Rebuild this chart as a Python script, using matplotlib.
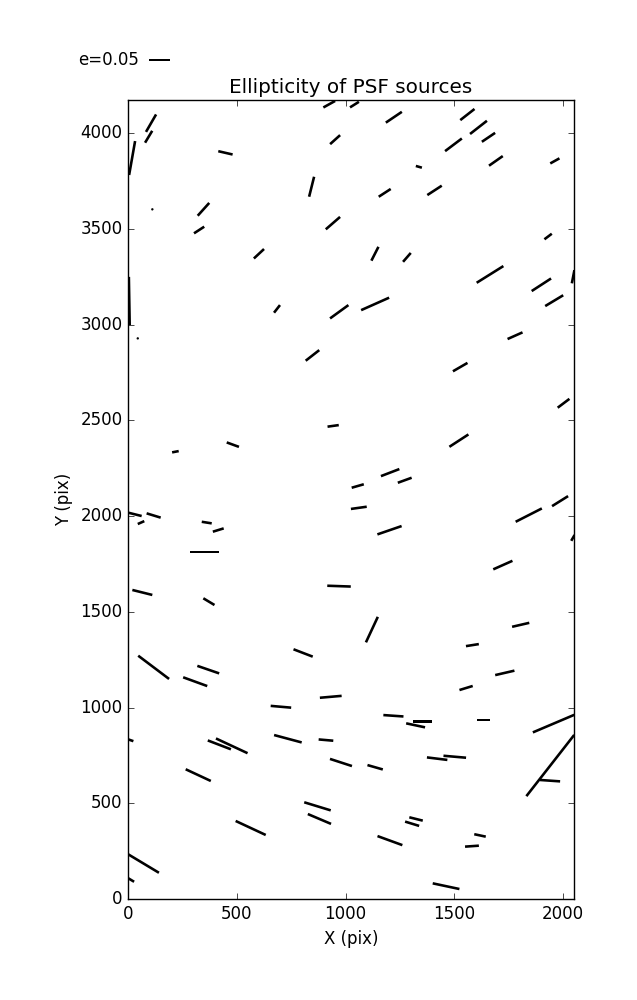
import numpy as np
import matplotlib
matplotlib.use('Agg')
import matplotlib.pyplot as plt

plt.style.use('classic')

# source positions (pix), ellipticity and position angle (deg)
x = [925, 1041, 1222, 1560, 1611, 1657, 106, 95, 19, 448,
     844, 952, 1496, 1691, 1962, 1337, 1180, 1409, 112, 347,
     327, 942, 1931, 602, 1135, 1282, 1664, 1900, 2046, 6,
     1136, 1959, 685, 971, 45, 848, 1779, 1527, 2002, 943,
     1521, 482, 218, 1205, 1272, 1056, 1061, 1842, 1986, 2045,
     32, 118, 60, 362, 415, 1202, 351, 1723, 970, 66,
     372, 1121, 1805, 1583, 118, 369, 309, 805, 1732, 1554,
     932, 703, 1220, 1355, 1322, 1635, 1956, 1941, 1940, 13,
     420, 477, 735, 910, 979, 1136, 1421, 1502, 323, 871,
     880, 1324, 1306, 564, 1204, 1618, 1581, 72, 15, 1462]
y = [4151, 4149, 4083, 4097, 4030, 3978, 4052, 3981, 3870, 3897,
     3720, 3966, 3939, 3855, 3855, 3824, 3688, 3701, 3602, 3602,
     3494, 3530, 3460, 3370, 3370, 3351, 3262, 3208, 3250, 3123,
     3108, 3125, 3082, 3067, 2928, 2839, 2942, 2778, 2589, 2471,
     2394, 2373, 2336, 2227, 2187, 2157, 2043, 2005, 2078, 1886,
     2009, 2003, 1966, 1966, 1927, 1926, 1812, 1744, 1634, 1601,
     1553, 1407, 1432, 1326, 1210, 1198, 1135, 1285, 1181, 1102,
     1056, 1004, 957, 926, 907, 935, 916, 697, 618, 829,
     805, 800, 837, 830, 713, 688, 733, 743, 647, 484,
     418, 418, 393, 371, 305, 332, 276, 185, 99, 67]
e = [0.032, 0.025, 0.046, 0.043, 0.051, 0.038, 0.048, 0.033, 0.082, 0.035,
     0.049, 0.032, 0.050, 0.040, 0.025, 0.015, 0.034, 0.041, 0.004, 0.041,
     0.029, 0.045, 0.022, 0.033, 0.037, 0.028, 0.075, 0.055, 0.032, 0.115,
     0.073, 0.050, 0.023, 0.054, 0.004, 0.041, 0.039, 0.040, 0.035, 0.027,
     0.054, 0.031, 0.016, 0.047, 0.035, 0.030, 0.038, 0.070, 0.045, 0.016,
     0.033, 0.035, 0.017, 0.024, 0.027, 0.061, 0.070, 0.050, 0.056, 0.049,
     0.031, 0.067, 0.042, 0.031, 0.092, 0.055, 0.061, 0.049, 0.047, 0.033,
     0.052, 0.049, 0.048, 0.045, 0.046, 0.032, 0.107, 0.185, 0.048, 0.013,
     0.059, 0.083, 0.068, 0.035, 0.055, 0.038, 0.049, 0.054, 0.066, 0.066,
     0.060, 0.033, 0.035, 0.079, 0.063, 0.028, 0.033, 0.085, 0.016, 0.065]
pa = [29, 32, 34, 38, 38, 34, 60, 59, 80, -13,
      76, 42, 37, 35, 29, -16, 33, 33, 45, 48,
      33, 41, 37, 43, 63, 49, 32, 33, 79, -89,
      24, 31, 52, 36, 45, 38, 24, 30, 37, 8,
      33, -20, 11, 21, 20, 16, 8, 27, 32, 60,
      -14, -17, 24, -9, 17, 19, 0, 24, -2, -14,
      -31, 65, 13, 9, -37, -19, -20, -21, 13, 17,
      5, -5, -4, 0, -12, 0, 23, 52, -4, -19,
      -21, -25, -15, -5, -18, -16, -7, -5, -25, -17,
      -23, -14, -17, -25, -20, -12, 4, -31, -31, -12]

e = np.array(e)
pa = np.radians(pa)
u = e * np.cos(pa)
v = e * np.sin(pa)

fig = plt.figure(figsize=(6.37, 10), facecolor='white')
ax = fig.add_axes([0.2009, 0.101, 0.7002, 0.799])

Q = ax.quiver(x, y, u, v, angles='uv', pivot='middle',
              headwidth=0, headlength=0, headaxislength=0,
              units='dots', width=2.6, scale_units='dots', scale=0.05 / 21.)
ax.quiverkey(Q, 0.2345, 0.94, 0.05, 'e=0.05', labelpos='W',
             coordinates='figure', fontproperties={'size': 12})

ax.set_xlim(0, 2050)
ax.set_ylim(0, 4173)
ax.set_xticks(np.arange(0, 2001, 500))
ax.set_yticks(np.arange(0, 4001, 500))
ax.set_xlabel('X (pix)')
ax.set_ylabel('Y (pix)')
ax.set_title('Ellipticity of PSF sources')

fig.savefig('out.png', dpi=100, facecolor='white')
